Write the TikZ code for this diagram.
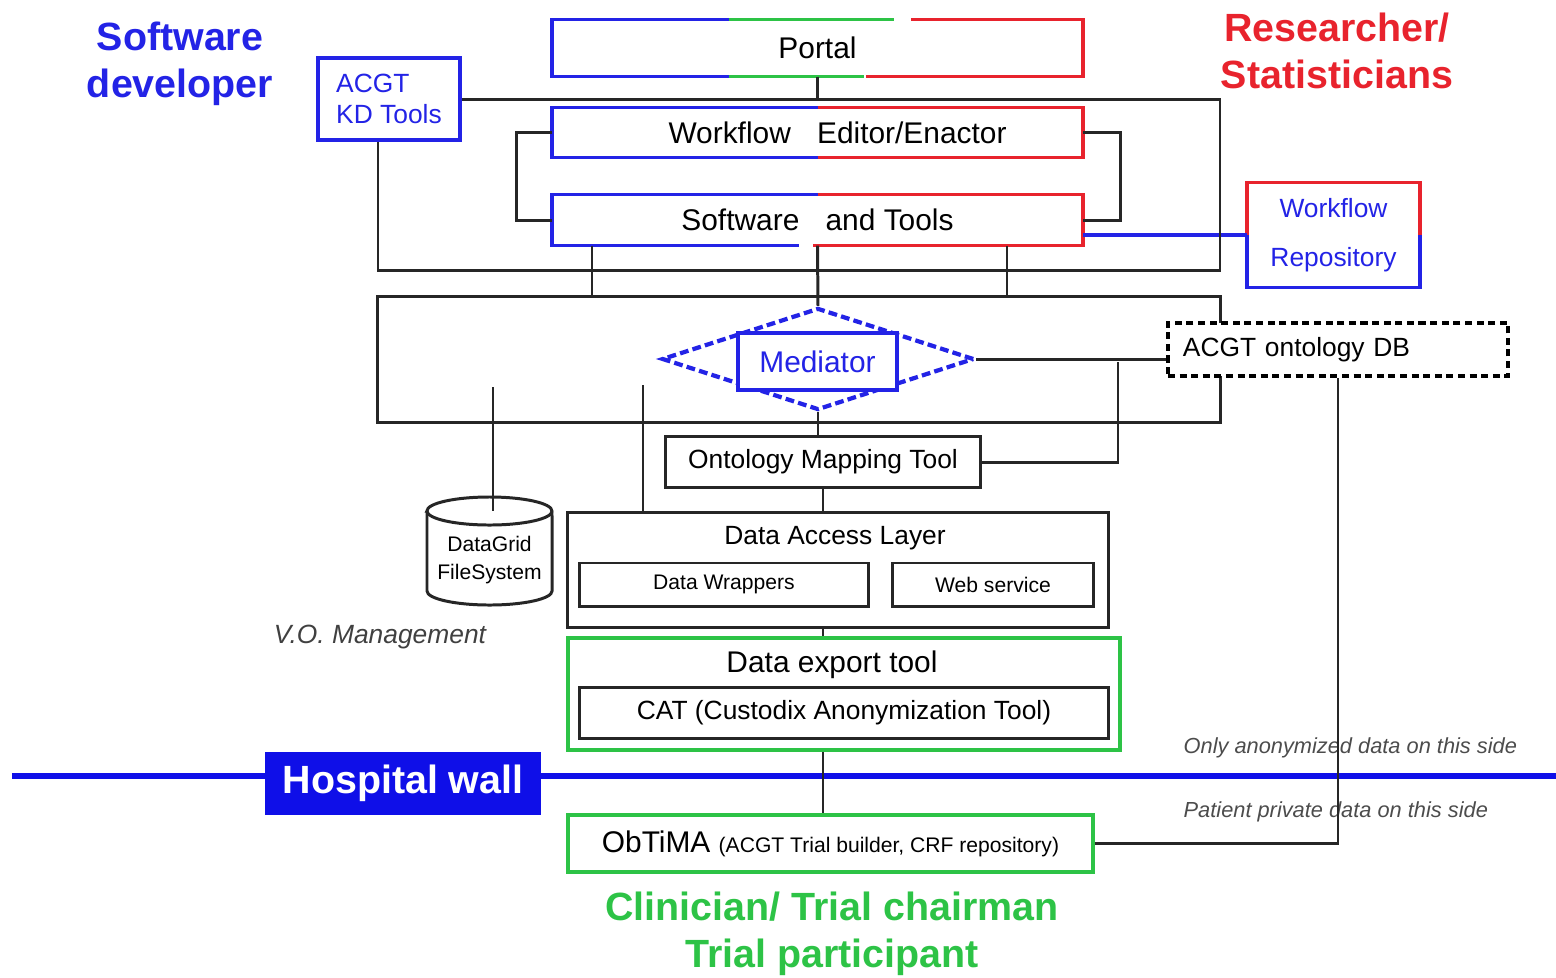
\documentclass[tikz,border=0pt]{standalone}
\usepackage{fontspec}
\setmainfont{Liberation Sans}
\usepackage{tikz}
\usetikzlibrary{shapes.geometric}
\definecolor{acgtblue}{RGB}{35,35,230}
\definecolor{acgtred}{RGB}{232,35,45}
\definecolor{acgtgreen}{RGB}{45,195,70}
\definecolor{wallblue}{RGB}{15,15,232}
\newcommand{\bigsz}{\fontsize{8.5}{10}\selectfont}
\newcommand{\midsz}{\fontsize{7.5}{9}\selectfont}
\newcommand{\smallsz}{\fontsize{6}{7.7}\selectfont}
\newcommand{\notesz}{\fontsize{6.2}{7.5}\selectfont}
\newcommand{\rolesz}{\fontsize{11.2}{13.3}\selectfont}
\tikzset{
  wire/.style={draw=black!85, line width=0.85pt},
  box/.style={draw=black!85, line width=0.85pt, fill=white, inner sep=0pt},
  gbox/.style={draw=acgtgreen, line width=1pt, fill=white, inner sep=0pt},
  bbox/.style={draw=acgtblue, line width=1pt, fill=white, inner sep=0pt, text=acgtblue},
  bare/.style={inner sep=0pt},
  bl/.style={draw=acgtblue, line width=1pt},
  rd/.style={draw=acgtred, line width=1pt},
  gr/.style={draw=acgtgreen, line width=1pt},
  role/.style={font=\rolesz\bfseries, align=center},
  note/.style={anchor=west, inner sep=0pt, font=\notesz\itshape, text=black!70},
  mdiamond/.style={diamond, draw=acgtblue, line width=1.2pt, dash pattern=on 2.5pt off 1.2pt, inner sep=0pt},
  dbbox/.style={draw=black, line width=1.3pt, dash pattern=on 2pt off 1.3pt, fill=white, inner sep=0pt},
  wallbox/.style={fill=wallblue, text=white, font=\rolesz\bfseries, inner sep=0pt}
}
\begin{document}
\begin{tikzpicture}[x=0.01cm,y=-0.01cm]
\useasboundingbox (0,0) rectangle (1556,978);

% who uses what
\node[role, text=acgtblue] (dev) at (180,64) {Software\\developer};
\node[role, text=acgtred] (res) at (1337,51) {Researcher/\\Statisticians};
\node[role, text=acgtgreen] (clin) at (832,934) {Clinician/ Trial chairman\\Trial participant};

% upper layer
\node[bare, minimum width=5.29cm, minimum height=0.56cm, font=\bigsz] (portal) at (817.5,48) {Portal};
\draw[bl] ([xshift=1.77cm]portal.north west) -- (portal.north west) -- (portal.south west) -- ++(177,0);
\draw[gr] ([xshift=1.77cm]portal.north west) -- ++(165,0);
\draw[gr] ([xshift=1.77cm]portal.south west) -- ++(135,0);
\draw[rd] ([xshift=-1.72cm]portal.north east) -- (portal.north east) -- (portal.south east) -- ++(-217,0);

\node[bare, minimum width=5.29cm, minimum height=0.49cm, font=\bigsz] (wfe) at (817.5,132.5) {\hspace{0.4cm}Workflow\hspace{0.6em} Editor/Enactor};
\draw[bl] (wfe.north) -- (wfe.north west) -- (wfe.south west) -- (wfe.south);
\draw[rd] (wfe.north) -- (wfe.north east) -- (wfe.south east) -- (wfe.south);

\node[bare, minimum width=5.29cm, minimum height=0.5cm, font=\bigsz] (swt) at (817.5,220) {Software\hspace{0.6em} and Tools};
\draw[bl] (swt.north) -- (swt.north west) -- (swt.south west) -- ++(247,0);
\draw[rd] (swt.north) -- (swt.north east) -- (swt.south east) -- ++(-270,0);

\draw[wire] (wfe.west) -- ++(-36,0) |- (swt.west);
\draw[wire] (wfe.east) -- ++(38,0) |- (swt.east);

\node[bare, minimum width=1.71cm, minimum height=1.04cm, align=center, text=acgtblue, font=\fontsize{7.5}{14}\selectfont] (wr) at (1333.5,235) {Workflow\\Repository};
\draw[rd] (wr.west) -- (wr.north west) -- (wr.north east) -- (wr.east);
\draw[bl] (wr.west) -- (wr.south west) -- (wr.south east) -- (wr.east);
\draw[bl] (wr.west -| swt.east) -- (wr.west);

\node[bbox, minimum width=1.42cm, minimum height=0.82cm, align=left, font=\fontsize{7.5}{9}\selectfont] (kd) at (389,99) {ACGT\\KD Tools};
\coordinate (tfcorner) at (1220,270);
\draw[wire] (kd.east) -| (tfcorner) -| ([xshift=-0.11cm]kd.south);
\draw[wire] (portal.south) -- (portal.south |- kd.east);

% mediator layer
\node[box, fill=none, minimum width=8.42cm, minimum height=1.25cm] (medframe) at (799,359.5) {};
\foreach \x in {592,1007}
  \draw[wire] (swt.south -| \x,0) -- (medframe.north -| \x,0);
\node[mdiamond, minimum width=3.12cm, minimum height=1.02cm] (med) at (818,359) {};
\node[bbox, minimum width=1.59cm, minimum height=0.57cm, font=\bigsz] (medbox) at (817.5,361.5) {Mediator};
\draw[wire] (swt.south) -- (med.north);

\node[dbbox, text width=3.1cm, inner xsep=0.15cm, minimum height=0.53cm, align=left, font=\midsz] (db) at (1338,349.5) {ACGT ontology DB};
\draw[wire] (med.east) -- (med.east -| db.west);

\node[box, minimum width=3.14cm, minimum height=0.5cm, font=\midsz] (omt) at (823,462) {Ontology Mapping Tool};
\coordinate (tap) at (1118,362);
\draw[wire] (tap) |- (omt.east);
\draw[wire] (med.south) -- (med.south |- omt.north);

% storage
\draw[wire, fill=white] (427,511) -- (427,591) arc[start angle=180, end angle=360, x radius=0.625cm, y radius=0.14cm]
  -- (552,511) arc[start angle=0, end angle=180, x radius=0.625cm, y radius=0.14cm] -- cycle;
\draw[wire] (427,511) arc[start angle=180, end angle=360, x radius=0.625cm, y radius=0.14cm];
\node[bare, align=center, font=\smallsz] (dgfs) at (489.5,560) {DataGrid\\FileSystem};
\coordinate (vofs) at (493,387);
\coordinate (dgtop) at (493,511);
\draw[wire] (vofs) -- (dgtop);
\node[bare, font=\midsz\itshape, text=black!75] (vo) at (380,637) {V.O. Management};

% data access
\node[box, minimum width=5.4cm, minimum height=1.14cm] (dal) at (838,570) {};
\node[bare, font=\midsz] (daltitle) at (835,538) {Data Access Layer};
\node[box, minimum width=2.88cm, minimum height=0.43cm, font=\smallsz] (wrap) at (724,584.5) {Data Wrappers};
\node[box, minimum width=2.0cm, minimum height=0.43cm, font=\smallsz] (ws) at (993,584.5) {Web service};
\coordinate (vodal) at (643,385);
\draw[wire] (vodal) -- (vodal |- dal.north);
\draw[wire] (omt.south) -- (omt.south |- dal.north);

\node[gbox, minimum width=5.52cm, minimum height=1.12cm] (det) at (844,694) {};
\node[bare, font=\bigsz] (dettitle) at (832,665) {Data export tool};
\node[box, minimum width=5.28cm, minimum height=0.5cm, font=\midsz] (cat) at (844,713) {CAT (Custodix Anonymization Tool)};
\draw[wire] (omt.south |- dal.south) -- (omt.south |- det.north);

% hospital wall
\coordinate (wallW) at (12,776);
\coordinate (wallE) at (1556,776);
\draw[draw=wallblue, line width=1.7pt] (wallW) -- (wallE);
\node[wallbox, minimum width=2.76cm, minimum height=0.63cm] (wall) at (403,783.5) {Hospital wall};
\node[note] (anon) at (1183,748) {Only anonymized data on this side};
\node[note] (priv) at (1183,812) {Patient private data on this side};

\node[gbox, minimum width=5.25cm, minimum height=0.57cm, font=\bigsz] (obt) at (830.5,843.5) {ObTiMA {\smallsz (ACGT Trial builder, CRF repository)}};
\draw[wire] (omt.south |- det.south) -- (omt.south |- obt.north);
\draw[wire] (obt.east) -| (db.south);
\end{tikzpicture}
\end{document}
